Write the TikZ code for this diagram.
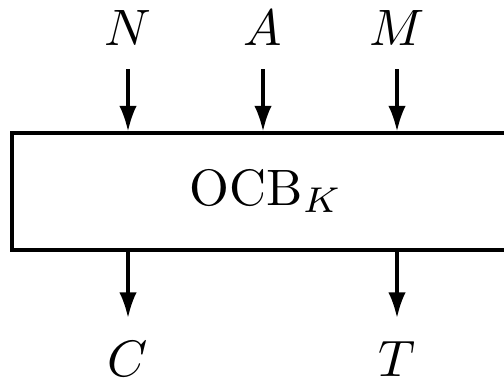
\documentclass[tikz,border=0pt]{standalone}
\usetikzlibrary{arrows.meta}

\begin{document}
\begin{tikzpicture}[
        x=0.1953pt, y=0.1953pt,
        line width=0.6pt,
        sigLabel/.style={inner sep=0pt},
        sigArrow/.style={-{Latex[length=5pt,width=3.4pt]}, line width=0.6pt},
        cipherBox/.style={draw, line width=0.6pt, minimum width=99.2pt, minimum height=22.85pt, inner sep=0pt}
    ]
        \clip (0,0) rectangle (504,382);
        \useasboundingbox (0,0) rectangle (504,382);

        % The block cipher mode
        \node[cipherBox] (ocb) at (266,190.5) {$\mathrm{OCB}_K$};

        % Inputs: nonce, associated data, message
        \node[sigLabel] (inN) at (128,354) {$N$};
        \node[sigLabel] (inA) at (263,354) {$A$};
        \node[sigLabel] (inM) at (397,354) {$M$};

        % Outputs: ciphertext and tag
        \node[sigLabel] (outC) at (128,23) {$C$};
        \node[sigLabel] (outT) at (397,23) {$T$};

        \draw[sigArrow, shorten <=4.3pt] (inN.south) -- (inN |- ocb.north);
        \draw[sigArrow, shorten <=4.3pt] (inA.south) -- (inA |- ocb.north);
        \draw[sigArrow, shorten <=4.3pt] (inM.south) -- (inM |- ocb.north);

        \draw[sigArrow, shorten >=4.3pt] (outC |- ocb.south) -- (outC.north);
        \draw[sigArrow, shorten >=4.3pt] (outT |- ocb.south) -- (outT.north);

    \end{tikzpicture}
\end{document}
